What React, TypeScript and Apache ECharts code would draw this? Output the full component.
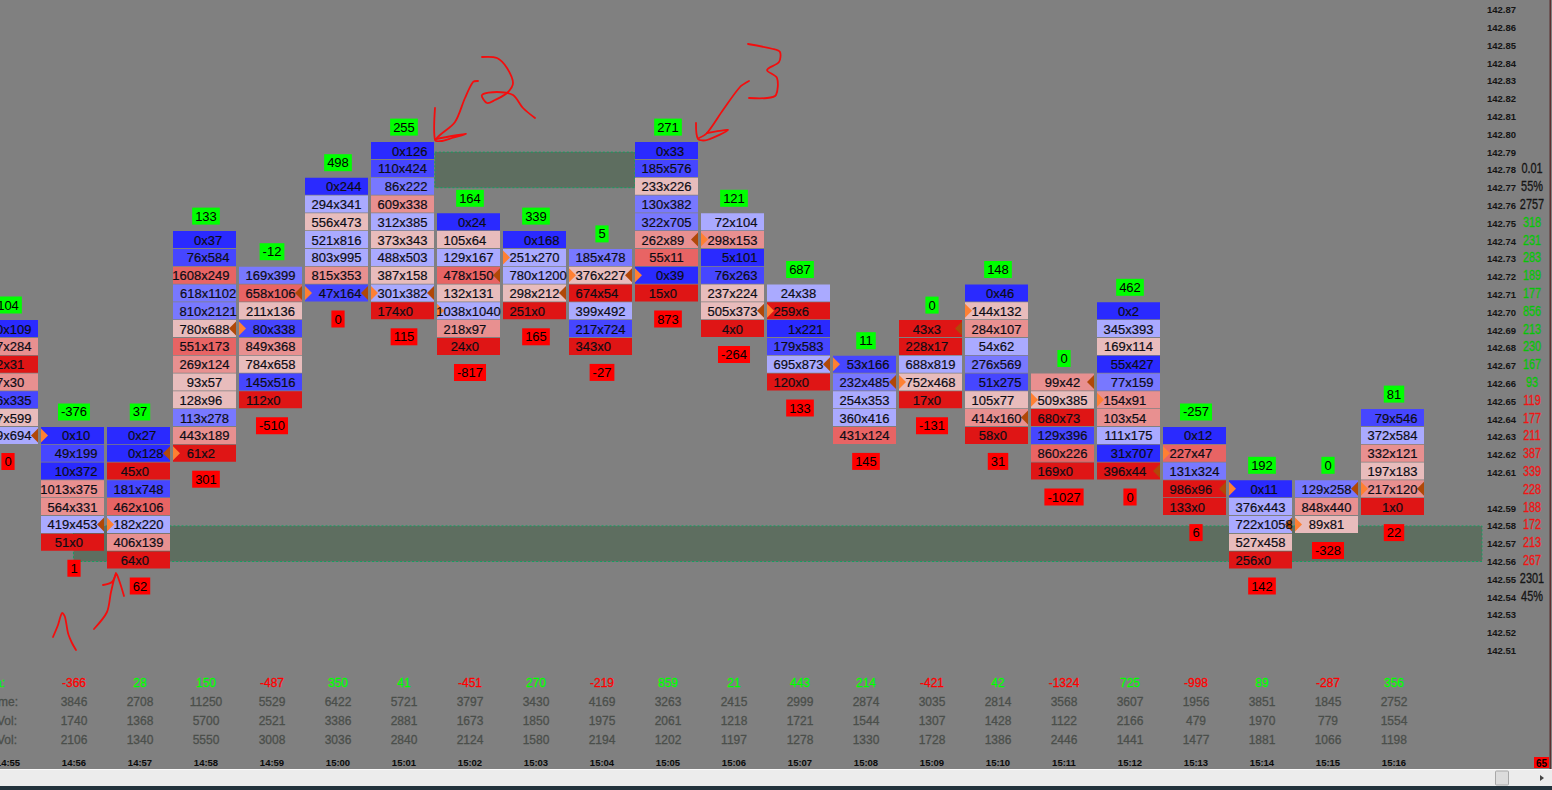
import React, { useEffect, useRef } from "react";
import * as echarts from "echarts";

const times = ["14:55","14:56","14:57","14:58","14:59","15:00","15:01","15:02","15:03","15:04","15:05","15:06","15:07","15:08","15:09","15:10","15:11","15:12","15:13","15:14","15:15","15:16"];
const topPrices = [142.69,142.63,142.63,142.74,142.72,142.77,142.79,142.75,142.74,142.73,142.79,142.75,142.71,142.67,142.69,142.71,142.66,142.70,142.63,142.60,142.60,142.64];

const footprint: string[][] = [
  ["0x109","617x284","252x31","187x30","86x335","427x599","589x694"],
  ["0x10","49x199","10x372","1013x375","564x331","419x453","51x0"],
  ["0x27","0x128","45x0","181x748","462x106","182x220","406x139","64x0"],
  ["0x37","76x584","1608x249","618x1102","810x2121","780x688","551x173","269x124","93x57","128x96","113x278","443x189","61x2"],
  ["169x399","658x106","211x136","80x338","849x368","784x658","145x516","112x0"],
  ["0x244","294x341","556x473","521x816","803x995","815x353","47x164"],
  ["0x126","110x424","86x222","609x338","312x385","373x343","488x503","387x158","301x382","174x0"],
  ["0x24","105x64","129x167","478x150","132x131","1038x1040","218x97","24x0"],
  ["0x168","251x270","780x1200","298x212","251x0"],
  ["185x478","376x227","674x54","399x492","217x724","343x0"],
  ["0x33","185x576","233x226","130x382","322x705","262x89","55x11","0x39","15x0"],
  ["72x104","298x153","5x101","76x263","237x224","505x373","4x0"],
  ["24x38","259x6","1x221","179x583","695x873","120x0"],
  ["53x166","232x485","254x353","360x416","431x124"],
  ["43x3","228x17","688x819","752x468","17x0"],
  ["0x46","144x132","284x107","54x62","276x569","51x275","105x77","414x160","58x0"],
  ["99x42","509x385","680x73","129x396","860x226","169x0"],
  ["0x2","345x393","169x114","55x427","77x159","154x91","103x54","111x175","31x707","396x44"],
  ["0x12","227x47","131x324","986x96","133x0"],
  ["0x11","376x443","722x1058","527x458","256x0"],
  ["129x258","848x440","89x81"],
  ["79x546","372x584","332x121","197x183","217x120","1x0"],
];
// imbalance class of every row: d m b l = blue side, p s o r = red side
const imbalance = ["dsrsmpl","dmdsslr","ddrmolsr","dmobbposppbsr","bopmspmr","dlpllsm","dmbslplplr","dploplsr","dllpr","bprlmr","dmpbbsodr","lsdmppr","lrdmlr","mbllo","rrlpr","dpslbmpsr","sprmor","dlpdbssldr","dobrr","dllpr","bsp","mlspsr"];
const leftMarkerRow = [-1,0,5,12,3,6,8,5,1,1,7,1,1,0,3,1,1,5,1,0,2,4];
const rightMarkerRow = [6,5,1,5,1,6,8,3,3,1,5,5,4,1,0,7,0,9,3,2,0,4];
const upperCounts = ["104","-376","37","133","-12","498","255","164","339","5","271","121","687","11","0","148","0","462","-257","192","0","81"];
const lowerCounts = ["0","1","62","301","-510","0","115","-817","165","-27","873","-264","133","145","-131","31","-1027","0","6","142","-328","22"];

const deltaRow = [-366,28,150,-487,350,41,-451,270,-219,859,21,443,214,-421,42,-1324,725,-998,89,-287,356];
const volumeRow = [3846,2708,11250,5529,6422,5721,3797,3430,4169,3263,2415,2999,2874,3035,2814,3568,3607,1956,3851,1845,2752];
const askVolRow = [1740,1368,5700,2521,3386,2881,1673,1850,1975,2061,1218,1721,1544,1307,1428,1122,2166,479,1970,779,1554];
const bidVolRow = [2106,1340,5550,3008,3036,2840,2124,1580,2194,1202,1197,1278,1330,1728,1386,2446,1441,1477,1881,1066,1198];

const profilePrices = [142.78,142.77,142.76,142.75,142.74,142.73,142.72,142.71,142.70,142.69,142.68,142.67,142.66,142.65,142.64,142.63,142.62,142.61,142.60,142.59,142.58,142.57,142.56,142.55,142.54];
const profileValues = ["0.01","55%","2757","318","231","283","189","177","856","213","230","167","93","119","177","211","387","339","228","188","172","213","267","2301","45%"];
const profileKinds = "nnnggggggggggrrrrrrrrrrnn";

const zoneFrom = [1.015, 6.49];
const zoneTo = [22.356, 9.52];
const zoneHigh = [142.58, 142.79];
const zoneLow = [142.56, 142.77];

const shadeColors: Record<string, string> = {
  d: "#2a2aff", m: "#4646ff", b: "#7878ff", l: "#aaaaff",
  p: "#e8bcbc", s: "#e89090", o: "#e86464", r: "#df1515",
};
const FONT = '"Liberation Sans", Arial, sans-serif';

type Cell = { col: number; row: number; price: number; text: string };
const cells: Cell[] = [];
footprint.forEach((rows, col) =>
  rows.forEach((text, row) =>
    cells.push({ col, row, price: +(topPrices[col] - row * 0.01).toFixed(2), text })
  )
);

const strokes: number[][][] = [
  [[53,637],[58,625],[62,613],[65,617],[68,633],[72,643],[76,650]],
  [[94,629],[107,612],[111,592],[116,574],[119,580],[124,596]],
  [[103,585],[112,582],[116,573]],
  [[478,81],[473,82],[465,98],[455,122],[440,135],[436,139]],
  [[435,108],[435,140],[442,141],[452,138],[466,134],[452,136],[436,139]],
  [[482,57],[497,58],[507,68],[513,83],[507,93],[495,100],[487,103],[482,95],[497,92],[513,95],[523,108],[535,118]],
  [[748,44],[773,49],[780,52],[779,62],[767,70],[777,78],[776,95],[767,98],[749,98]],
  [[749,81],[740,87],[723,110],[707,133],[699,138]],
  [[696,123],[698,139],[707,140],[728,130],[707,133]],
];

function labelText(text: string, x: number, y: number, bg: string) {
  return {
    type: "text",
    style: {
      text, x, y, fill: "#000", font: `13px ${FONT}`, align: "center", verticalAlign: "middle",
      backgroundColor: bg, padding: [2, 3, 2, 3],
    },
  };
}

function renderCell(params: any, api: any) {
  const c = cells[params.dataIndex];
  const [cx, py] = api.coord([c.col, c.price]);
  const width = 63;
  const height = 17;
  const left = cx - width / 2;
  const cy = py - 1.5;
  const kids: any[] = [
    { type: "rect", shape: { x: left, y: py - 10, width, height }, style: { fill: shadeColors[imbalance[c.col][c.row]] } },
  ];
  if (leftMarkerRow[c.col] === c.row) {
    kids.push({ type: "polygon", shape: { points: [[left, cy - 7], [left + 7, cy], [left, cy + 7]] }, style: { fill: "#ff8033" } });
  }
  if (rightMarkerRow[c.col] === c.row) {
    kids.push({ type: "polygon", shape: { points: [[left + width, cy - 7], [left + width - 7, cy], [left + width, cy + 7]] }, style: { fill: "#b04808" } });
  }
  const [bid, ask] = c.text.split("x");
  kids.push({
    type: "text",
    style: {
      text: c.text, x: cx + (ask.length - bid.length) * 3.6, y: cy + 0.5, fill: "#0c0c14",
      stroke: "#0c0c14", lineWidth: 0.2,
      font: `13px ${FONT}`, align: "center", verticalAlign: "middle",
    },
  });
  return { type: "group", children: kids };
}

function renderCounts(params: any, api: any) {
  const col = params.dataIndex;
  const cx = api.coord([col, topPrices[col]])[0] + 1.5;
  const topY = api.coord([col, topPrices[col]])[1];
  const lastY = api.coord([col, topPrices[col] - (footprint[col].length - 1) * 0.01])[1];
  return {
    type: "group",
    children: [labelText(upperCounts[col], cx, topY - 25, "#00ff00"), labelText(lowerCounts[col], cx, lastY + 24.5, "#ff0000")],
  };
}

function statText(text: string, x: number, y: number, fill: string) {
  return {
    type: "text",
    style: { text, x, y, fill, stroke: fill, lineWidth: 0.3, font: `12px ${FONT}`, align: "center", verticalAlign: "middle" },
  };
}

function renderStats(params: any, api: any) {
  const i = params.dataIndex;
  const x = api.coord([i + 1, 142.6])[0] + 1.5;
  const grey = "#4a4e4a";
  const d = deltaRow[i];
  return {
    type: "group",
    children: [
      statText(String(d), x, 683, d < 0 ? "#ff0000" : "#00ff00"),
      statText(String(volumeRow[i]), x, 702, grey),
      statText(String(askVolRow[i]), x, 721, grey),
      statText(String(bidVolRow[i]), x, 740, grey),
    ],
  };
}

function renderProfile(params: any, api: any) {
  const i = params.dataIndex;
  const y = api.coord([0, profilePrices[i]])[1] - 1;
  const kind = profileKinds[i];
  const fill = kind === "g" ? "#08c408" : kind === "r" ? "#f01414" : "#141414";
  return {
    type: "text",
    x: 1532,
    y,
    scaleX: 0.78,
    style: {
      text: profileValues[i], x: 0, y: 0, fill, stroke: fill, lineWidth: 0.3,
      font: `14px ${FONT}`, align: "center", verticalAlign: "middle",
    },
  };
}

function renderZone(params: any, api: any) {
  const i = params.dataIndex;
  const a = api.coord([zoneFrom[i], zoneHigh[i]]);
  const b = api.coord([zoneTo[i], zoneLow[i]]);
  return {
    type: "rect",
    shape: { x: a[0], y: a[1], width: b[0] - a[0], height: b[1] - a[1] },
    style: { fill: "#5e6e60", stroke: "#12a060", lineWidth: 1, lineDash: [2, 2] },
  };
}

function sideLabel(text: string, x: number, y: number, fill: string) {
  return { type: "text", x, y, silent: true, style: { text, fill, stroke: fill, lineWidth: 0.3, font: `12px ${FONT}`, align: "right", verticalAlign: "middle" } };
}

export default function App() {
  const ref = useRef<HTMLDivElement>(null);
  useEffect(() => {
    const chart = echarts.init(ref.current!, undefined, { renderer: "svg" });
    chart.setOption({
      animation: false,
      backgroundColor: "#808080",
      grid: { left: 6.5, top: 9.7, width: 1475.5, height: 658.6, containLabel: false, outerBoundsMode: "none" },
      xAxis: {
        type: "value", min: 0, max: 22.356, interval: 1,
        axisLine: { show: false }, axisTick: { show: false }, splitLine: { show: false },
        axisLabel: {
          margin: 89, color: "#0a0a0a", fontFamily: FONT, fontWeight: "bold", fontSize: 9.5, padding: [0, 0, 0, 3],
          formatter: (v: number) => (Number.isInteger(v) && times[v]) || "",
        },
      },
      yAxis: {
        type: "value", position: "right", min: 142.5, max: 142.87, interval: 0.01,
        axisLine: { show: false }, axisTick: { show: false }, splitLine: { show: false },
        axisLabel: {
          margin: 5, color: "#141414", fontFamily: FONT, fontWeight: "bold", fontSize: 9.5,
          formatter: (v: number) => {
            const s = v.toFixed(2);
            return s === "142.60" || s === "142.50" ? "" : s;
          },
        },
      },
      graphic: {
        elements: [
          sideLabel("Delta:", 5, 683, "#00ff00"),
          sideLabel("Volume:", 18, 702, "#4a4e4a"),
          sideLabel("Ask Vol:", 17, 721, "#4a4e4a"),
          sideLabel("Bid Vol:", 17, 740, "#4a4e4a"),
          { type: "rect", silent: true, shape: { x: 1549.5, y: 0, width: 1.5, height: 770 }, style: { fill: "#5a3030" } },
          { type: "rect", silent: true, shape: { x: 1534, y: 757, width: 15, height: 11 }, style: { fill: "#ff0000" } },
          { type: "text", silent: true, x: 1541.5, y: 763, style: { text: "65", fill: "#000", font: `bold 10px ${FONT}`, align: "center", verticalAlign: "middle" } },
          { type: "rect", silent: true, shape: { x: 0, y: 769, width: 1552, height: 1 }, style: { fill: "#fafafa" } },
          { type: "rect", silent: true, shape: { x: 0, y: 770, width: 1552, height: 16 }, style: { fill: "#ececec" } },
          { type: "rect", silent: true, shape: { x: 0, y: 786, width: 1552, height: 4 }, style: { fill: "#22323c" } },
          { type: "rect", silent: true, shape: { x: 1495.5, y: 771, width: 13, height: 14, r: 1 }, style: { fill: "#dcdcdc", stroke: "#a8a8a8", lineWidth: 1 } },
          { type: "polygon", silent: true, shape: { points: [[1540, 775], [1544, 778], [1540, 781]] }, style: { fill: "#444" } },
          ...strokes.map((points) => ({
            type: "polyline", silent: true, shape: { points, smooth: 0.3 },
            style: { stroke: "#f40d0d", lineWidth: 1.8, fill: "none", lineJoin: "round", lineCap: "round" },
          })),
        ],
      },
      series: [
        { type: "custom", clip: false, silent: true, z: 1, renderItem: renderZone, data: zoneFrom.map((x, i) => [x, zoneHigh[i]]) },
        { type: "custom", clip: false, silent: true, z: 2, renderItem: renderCell, data: cells.map((c) => [c.col, c.price]) },
        { type: "custom", clip: false, silent: true, z: 3, renderItem: renderCounts, data: topPrices.map((p, i) => [i, p]) },
        { type: "custom", clip: false, silent: true, z: 3, renderItem: renderStats, data: deltaRow.map((d, i) => [i + 1, 142.6]) },
        { type: "custom", clip: false, silent: true, z: 3, renderItem: renderProfile, data: profilePrices.map((p) => [0, p]) },
      ],
    });
    return () => chart.dispose();
  }, []);
  return <div ref={ref} style={{ position: "fixed", left: 0, top: 0, width: 1552, height: 790 }} />;
}
